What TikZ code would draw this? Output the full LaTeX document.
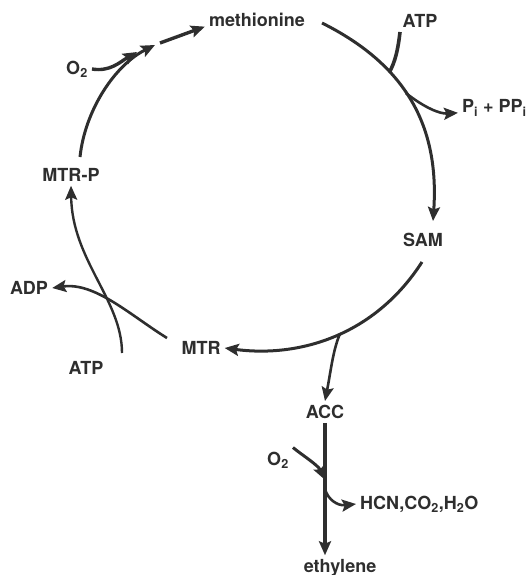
\documentclass[tikz,border=0pt]{standalone}
\usepackage{fontspec}
\setmainfont{TeX Gyre Heros}
\usepackage{tikz}
\usetikzlibrary{arrows.meta,positioning}
\definecolor{ink}{gray}{0.18}
\tikzstyle{Mlab}=[font=\fontsize{18}{20}\selectfont\bfseries,text=ink,inner sep=4pt]
\tikzstyle{Mstep}=[draw=ink,line width=3pt,-{Stealth[length=14pt,width=12pt,inset=2.5pt]}]
\tikzstyle{Mside}=[draw=ink,line width=2.6pt]
\newcommand{\mol}[3]{\node[Mlab] (#1) at (#2) {#3};}

\begin{document}
\begin{tikzpicture}[x=1pt,y=-1pt]
  \useasboundingbox (0,0) rectangle (530,575);

  \mol{met}{257,20}{methionine}
  \mol{atpA}{420,21}{ATP}
  \node[Mlab,anchor=west] (ppi) at (458,108) {P\textsubscript{i} + PP\textsubscript{i}};
  \mol{sam}{423,240}{SAM}
  \mol{mtr}{201,348}{MTR}
  \mol{acc}{325,412}{ACC}
  \mol{oxB}{278,460}{O\textsubscript{2}}
  \node[Mlab,anchor=west] (hcn) at (356,504) {HCN,CO\textsubscript{2},H\textsubscript{2}O};
  \mol{eth}{340,568}{ethylene}
  \mol{atpB}{86,368}{ATP}
  \mol{adp}{29,288}{ADP}
  \mol{mtrp}{71,175}{MTR-P}
  \mol{oxA}{77,69}{O\textsubscript{2}}

  \coordinate (metout) at (322,23);
  \coordinate (atpAin) at (400,32);
  \coordinate (samout) at (422,262);
  \coordinate (mtrout) at (167,338);
  \coordinate (atpBin) at (122,353);
  \coordinate (mtrpout) at (80,157);
  \coordinate (gap) at (160,43);

  % methionine -> SAM
  \draw[Mstep] (metout) .. controls (400,62) and (440,120) .. ([xshift=10pt,yshift=8pt]sam.north)
    coordinate[pos=0.35] (jA) coordinate[pos=0.47] (jB);
  \draw[Mside,line width=3.6pt] (atpAin) .. controls (398,50) and (395,62) .. (jA);
  \draw[Mstep,line width=2.6pt] (jB) .. controls (425,108) and (440,114) .. (ppi.base west);

  % SAM -> MTR
  \draw[Mstep] (samout) .. controls (375,335) and (300,358) .. (mtr.east)
    coordinate[pos=0.47] (jC);
  \draw[Mstep,line width=2.6pt] (jC) .. controls (333,350) and (331,370) .. (acc.north);

  % ACC -> ethylene
  \draw[Mstep,line width=3.4pt] (acc.south) -- (acc.south |- eth.north)
    coordinate[pos=0.43] (jD) coordinate[pos=0.5] (jE);
  \draw[Mstep,line width=3pt] (oxB.north east) .. controls (302,455) and (318,465) .. (jD);
  \draw[Mstep,line width=2.6pt] (jE) .. controls (328,500) and (338,506) .. (hcn.west);

  % MTR -> MTR-P
  \draw[Mstep,line width=2.6pt] (mtrout) .. controls (130,315) and (95,282) .. (adp.east);
  \draw[Mstep,line width=2.4pt] (atpBin) .. controls (122,300) and (72,260) .. (mtrp.south);

  % MTR-P -> methionine
  \draw[Mstep] (mtrpout) .. controls (85,110) and (115,65) .. (155,45);
  \draw[Mstep,line width=3.4pt] (oxA.east) .. controls (110,72) and (120,62) .. (137,52);
  \draw[Mstep,line width=3.4pt] (gap) -- (met.base west);
\end{tikzpicture}
\end{document}
